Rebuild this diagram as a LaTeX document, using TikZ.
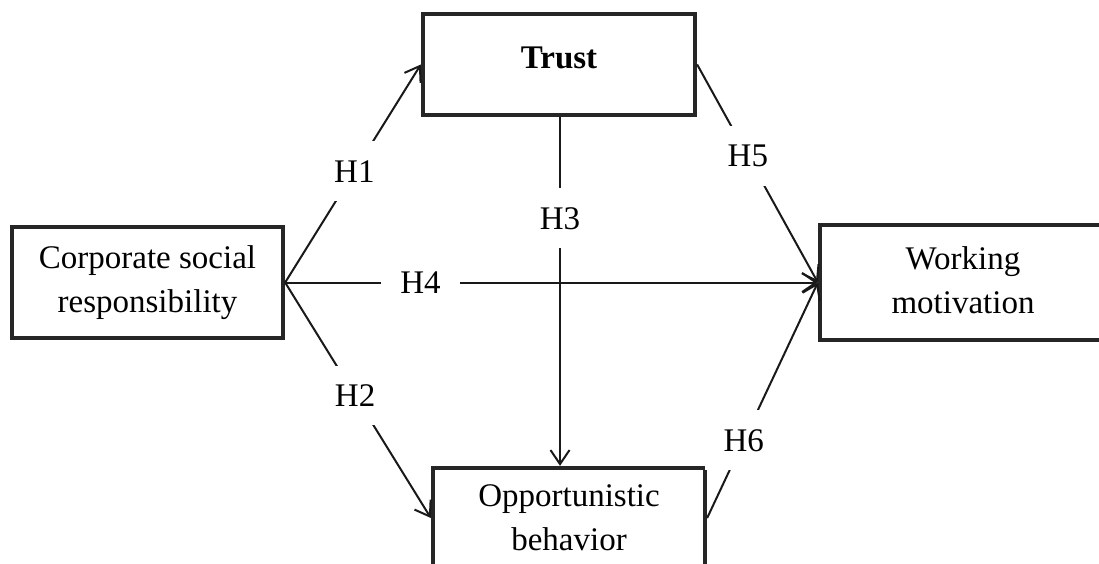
\documentclass[tikz,border=0pt]{standalone}
\usepackage{fontspec}
\setmainfont{Liberation Serif}
\usetikzlibrary{arrows.meta}
\begin{document}
\begin{tikzpicture}[x=1pt,y=-1pt,
  font=\fontsize{33}{44}\selectfont,
  box/.style={draw=black!85, line width=4.3pt, align=center, inner sep=0pt},
  conn/.style={draw=black!90, line width=2pt, -{Straight Barb[length=14pt,width=19pt]}},
  hlab/.style={fill=white, inner sep=19pt}]
\useasboundingbox (0,0) rectangle (1099,564);
\clip (0,0) rectangle (1099,564);
\node[box, minimum width=271pt, minimum height=111pt] (csr) at (147.5,282.5) {Corporate social\\responsibility};
\node[box, minimum width=272pt, minimum height=101pt] (trust) at (559,64.5) {\raisebox{14pt}{\bfseries Trust}};
\node[box, minimum width=286pt, minimum height=115pt] (wm) at (963,282.5) {\raisebox{5pt}{\begin{tabular}{@{}c@{}}Working\\motivation\end{tabular}}};
\node[box, minimum width=272pt, minimum height=100pt] (opp) at (569,518) {Opportunistic\\behavior};
\draw[conn] (csr.east) -- node[hlab, pos=0.51] (h1) {H1} (trust.west);
\draw[conn] (csr.east) -- node[hlab, pos=0.48] (h2) {H2} (opp.west);
\draw[conn] (csr.east) -- node[hlab, pos=0.254] (h4) {H4} (wm.west);
\draw[conn] (trust.south -| 560,0) -- node[hlab, pos=0.29] (h3) {H3} (opp.north -| 560,0);
\draw[conn] (trust.east) -- node[hlab, pos=0.42] (h5) {H5} (wm.west);
\draw[conn] (opp.east) -- node[hlab, pos=0.33] (h6) {H6} (wm.west);
\end{tikzpicture}
\end{document}
